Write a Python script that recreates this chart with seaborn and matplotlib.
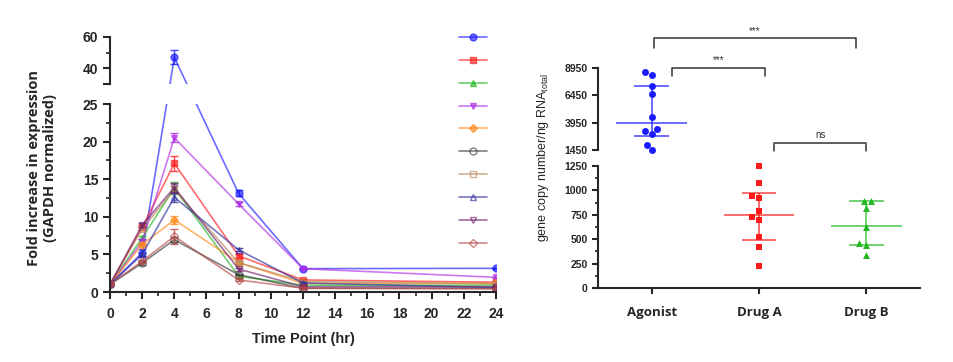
import seaborn as sns
import matplotlib.pyplot as plt
import matplotlib.transforms as mtransforms
from matplotlib.lines import Line2D
import numpy as np
import pandas as pd

sns.set_theme(style="ticks")
plt.rcParams['font.family'] = ['Liberation Sans', 'DejaVu Sans']
plt.rcParams['mathtext.default'] = 'regular'

# ---- left panel data: time course ----
time_points = [0, 2, 4, 8, 12, 24]
blue_vals = [1.0, 5.2, 47.0, 13.1, 3.1, 3.15]
red_vals = [1.0, 8.6, 17.1, 4.8, 1.6, 1.3]
green_vals = [1.0, 7.2, 13.8, 2.1, 0.9, 0.9]
violet_vals = [1.0, 6.7, 20.5, 11.7, 3.1, 1.95]
orange_vals = [1.0, 6.3, 9.6, 3.9, 1.15, 1.15]
black_vals = [1.0, 3.85, 6.95, 2.3, 0.5, 0.5]
tan_vals = [1.0, 8.4, 13.6, 3.9, 1.4, 1.1]
navy_vals = [1.0, 5.0, 12.6, 5.6, 1.2, 0.6]
purple_vals = [1.0, 8.9, 13.9, 3.05, 0.7, 0.7]
brown_vals = [1.0, 4.1, 7.4, 1.6, 0.5, 0.4]

blue_err = [0.1, 0.5, 4.5, 0.4, 0.1, 0.1]
red_err = [0.1, 0.3, 1.0, 0.3, 0.1, 0.1]
green_err = [0.1, 0.2, 0.8, 0.2, 0.1, 0.1]
violet_err = [0.1, 0.3, 0.6, 0.3, 0.1, 0.1]
orange_err = [0.1, 0.2, 0.5, 0.2, 0.1, 0.1]
black_err = [0.1, 0.2, 0.3, 0.1, 0.05, 0.05]
tan_err = [0.1, 0.2, 0.5, 0.2, 0.1, 0.1]
navy_err = [0.1, 0.2, 0.6, 0.2, 0.1, 0.1]
purple_err = [0.1, 0.3, 0.6, 0.2, 0.1, 0.1]
brown_err = [0.1, 0.2, 1.0, 0.2, 0.1, 0.1]

series = [
    (blue_vals, blue_err, '#1a1aff', 'o', True),
    (red_vals, red_err, '#ff1a1a', 's', True),
    (green_vals, green_err, '#22b822', '^', True),
    (violet_vals, violet_err, '#b02ee6', 'v', True),
    (orange_vals, orange_err, '#ff8a1a', 'D', True),
    (black_vals, black_err, '#3a3a3a', 'o', False),
    (tan_vals, tan_err, '#b8865b', 's', False),
    (navy_vals, navy_err, '#2e2e9e', '^', False),
    (purple_vals, purple_err, '#6e1e6e', 'v', False),
    (brown_vals, brown_err, '#b84a4a', 'D', False),
]

# ---- right panel data: gene copy number ----
groups = ["Agonist", "Drug A", "Drug B"]
agonist_vals = [8580, 8340, 7270, 6600, 4460, 3390, 3150, 2930, 1930, 1480]
drug_a_vals = [1250, 1071, 941, 924, 787, 725, 701, 520, 417, 222]
drug_b_vals = [889, 889, 821, 622, 462, 445, 342]
group_mid = [3950, 752, 633]
group_low = [2730, 496, 445]
group_high = [7270, 975, 889]
group_colors = ['#1a1aff', '#ff1a1a', '#22b822']
group_markers = ['o', 's', '^']

fig = plt.figure(figsize=(9.54, 3.62), dpi=100)
W, H = 954, 362


def px_axes(x0, x1, y_top, y_bot):
    return fig.add_axes([x0 / W, 1 - y_bot / H, (x1 - x0) / W, (y_bot - y_top) / H])


# broken y axis: one continuous "screen" scale so lines stay straight across the gap
LO_TOP, HI_BOT = 25.0, 30.0
GAP = 20 / 7.52          # gap height in lower-axis units
K = (47 / 30) / 7.52     # upper segment compression


def fwd(y):
    y = np.asarray(y, dtype=float)
    return np.where(y <= LO_TOP, y,
                    np.where(y < HI_BOT, LO_TOP + (y - LO_TOP) * GAP / (HI_BOT - LO_TOP),
                             LO_TOP + GAP + (y - HI_BOT) * K))


def inv(v):
    v = np.asarray(v, dtype=float)
    return np.where(v <= LO_TOP, v,
                    np.where(v < LO_TOP + GAP, LO_TOP + (v - LO_TOP) * (HI_BOT - LO_TOP) / GAP,
                             HI_BOT + (v - LO_TOP - GAP) / K))


ax_lo = px_axes(110, 496, 104, 292)
ax_hi = px_axes(110, 496, 37, 84)
for ax in (ax_lo, ax_hi):
    ax.set_yscale('function', functions=(fwd, inv))

for vals, err, col, mk, filled in series:
    df = pd.DataFrame({"t": time_points, "v": vals})
    for ax in (ax_lo, ax_hi):
        sns.lineplot(data=df, x="t", y="v", ax=ax, color=col, alpha=0.65, lw=1.2,
                     marker=mk, markersize=5 if mk != 'D' else 4,
                     markerfacecolor=col if filled else 'none',
                     markeredgecolor=col, markeredgewidth=1.0)
        ax.errorbar(time_points, vals, yerr=err, fmt='none', ecolor=col,
                    elinewidth=1, capsize=3, alpha=0.8)

for ax in (ax_lo, ax_hi):
    ax.set_xlim(0, 24)
    ax.set_xlabel("")
    ax.set_ylabel("")
    ax.spines['top'].set_visible(False)
    ax.spines['right'].set_visible(False)
    ax.tick_params(width=1.5, length=5, labelsize=10)
    ax.tick_params(which='minor', width=1.2, length=3)
    ax.spines['left'].set_linewidth(1.5)
    ax.spines['bottom'].set_linewidth(1.5)

ax_lo.set_ylim(0, 25)
ax_lo.set_yticks([0, 5, 10, 15, 20, 25])
ax_lo.set_yticks([2.5, 7.5, 12.5, 17.5, 22.5], minor=True)
ax_lo.set_xticks(range(0, 25, 2))
ax_lo.set_xticks(range(0, 25, 1), minor=True)
ax_lo.tick_params(axis='x', pad=6)
for lbl in ax_lo.get_xticklabels() + ax_lo.get_yticklabels():
    lbl.set_fontweight('bold')
ax_lo.set_xlabel("Time Point (hr)", fontsize=10.5, fontweight='bold', labelpad=8)

ax_hi.set_ylim(30, 60)
ax_hi.set_yticks([30, 40, 60])
ax_hi.set_yticklabels(["", "40", "60"])
ax_hi.set_yticks([50], minor=True)
for lbl in ax_hi.get_yticklabels():
    lbl.set_fontweight('bold')
ax_hi.spines['bottom'].set_visible(False)
ax_hi.tick_params(axis='x', which='both', bottom=False, labelbottom=False)

fig.text(42 / W, 1 - 168 / H, "Fold increase in expression\n(GAPDH normalized)",
         rotation=90, ha='center', va='center', fontsize=10.5, fontweight='bold',
         family=['Open Sans', 'DejaVu Sans'], linespacing=1.2)

# legend (markers only, no text)
handles = [Line2D([0], [0], color=col, alpha=0.65, lw=1.2, marker=mk,
                  markersize=5 if mk != 'D' else 4,
                  markerfacecolor=col if filled else 'none', markeredgecolor=col)
           for _, _, col, mk, filled in series]
fig.legend(handles, [""] * len(handles), loc='upper left',
           bbox_to_anchor=(448 / W, 1 - 21 / H), frameon=False,
           handlelength=2.2, labelspacing=0.87, fontsize=9, handletextpad=0)

# ---- right panel ----
ax_r_lo = px_axes(598, 920, 166, 288)
ax_r_hi = px_axes(598, 920, 68, 150)

group_data = [agonist_vals, drug_a_vals, drug_b_vals]
for i, (g, vals) in enumerate(zip(groups, group_data)):
    target = ax_r_hi if i == 0 else ax_r_lo
    d = pd.DataFrame({"group": [g] * len(vals), "value": vals})
    sns.swarmplot(data=d, x="group", y="value", order=groups, ax=target,
                  color=group_colors[i], marker=group_markers[i], size=5,
                  clip_on=False)
    for ax in (ax_r_lo, ax_r_hi):
        ax.hlines(group_mid[i], i - 0.33, i + 0.33, color=group_colors[i], lw=1.2, alpha=0.75)
        ax.hlines([group_low[i], group_high[i]], i - 0.16, i + 0.16,
                  color=group_colors[i], lw=1.2, alpha=0.75)
        ax.vlines(i, group_low[i], group_high[i], color=group_colors[i], lw=1.2, alpha=0.75)

for ax in (ax_r_lo, ax_r_hi):
    ax.set_xlim(-0.5, 2.5)
    ax.set_xlabel("")
    ax.set_ylabel("")
    ax.spines['top'].set_visible(False)
    ax.spines['right'].set_visible(False)
    ax.spines['left'].set_linewidth(1.5)
    ax.spines['bottom'].set_linewidth(1.5)
    ax.tick_params(width=1.5, length=4, labelsize=7.5)
    ax.tick_params(which='minor', width=1.2, length=2.5)

ax_r_lo.set_ylim(0, 1250)
ax_r_lo.set_yticks([0, 250, 500, 750, 1000, 1250])
ax_r_lo.set_yticks([125, 375, 625, 875, 1125], minor=True)
ax_r_lo.set_xticks([0, 1, 2])
ax_r_lo.set_xticklabels(groups, fontsize=9.5, fontweight='bold',
                        family=['Open Sans', 'DejaVu Sans'])
ax_r_lo.tick_params(axis='x', pad=9)
for lbl in ax_r_lo.get_yticklabels():
    lbl.set_fontweight('bold')

ax_r_hi.set_ylim(1450, 8950)
ax_r_hi.set_yticks([1450, 3950, 6450, 8950])
for lbl in ax_r_hi.get_yticklabels():
    lbl.set_fontweight('bold')
ax_r_hi.spines['bottom'].set_visible(False)
ax_r_hi.tick_params(axis='x', which='both', bottom=False, labelbottom=False)

fig.text(543 / W, 1 - 158 / H, "gene copy number/ng RNA$_{total}$", rotation=90,
         ha='center', va='center', fontsize=9)

# significance brackets
trans = mtransforms.blended_transform_factory(ax_r_hi.transData, ax_r_hi.transAxes)
brackets = [
    (0.02, 1.9, 1.36, 1.24, "***"),
    (0.19, 1.06, 1.0, 0.9, "***"),
    (1.14, 2.0, 0.086, -0.01, "ns"),
]
for x0, x1, ytop, ybot, txt in brackets:
    ax_r_hi.plot([x0, x0, x1, x1], [ybot, ytop, ytop, ybot], color='#333333', lw=1.1,
                 transform=trans, clip_on=False)
    ax_r_hi.text((x0 + x1) / 2, ytop + 0.03, txt, transform=trans, ha='center', va='bottom',
                 fontsize=7, color='#333333')

fig.savefig("out.png", dpi=100)
